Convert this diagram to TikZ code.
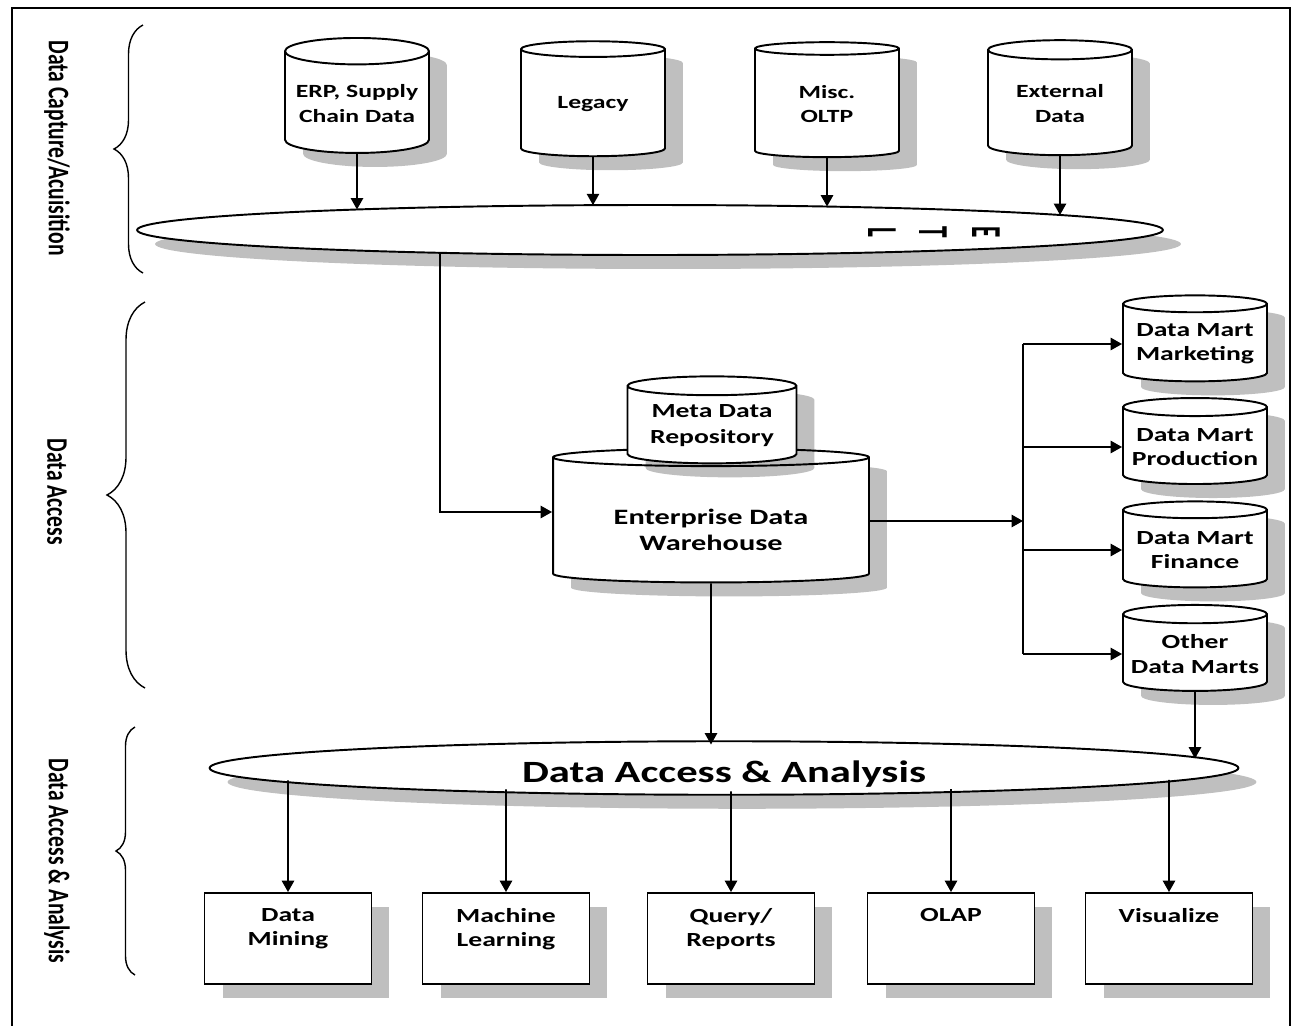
\documentclass[tikz,border=0pt]{standalone}
\usepackage{fontspec}
\setmainfont{Carlito}[FakeStretch=1.38]
\newfontfamily\sidefont{Carlito}
\usetikzlibrary{shapes.geometric, shadows, arrows.meta, intersections, decorations.pathreplacing}
\newcommand{\feedarrow}[2]{%
  \path[name path=feed] (#1.south) -- ++(0,220);
  \draw[arr, name intersections={of=feed and #2, sort by=feed}] (#1.south) -- (intersection-1);
}
\newcommand{\droparrow}[2]{%
  \path[name path=drop] (#2.north) -- ++(0,-220);
  \draw[arr, name intersections={of=drop and #1, sort by=drop}] (intersection-1) -- (#2.north);
}
\tikzset{
  dropgray/.style={drop shadow={fill=black, opacity=0.25, shadow xshift=0.36cm, shadow yshift=-0.28cm}},
  db/.style={cylinder, shape border rotate=90, draw, fill=white, dropgray, align=center, inner sep=1pt},
  srcdb/.style={db, aspect=0.21, minimum width=2.88cm, minimum height=2.3cm, font=\bfseries\fontsize{10.6}{14.2}\selectfont},
  martdb/.style={db, aspect=0.139, minimum width=2.88cm, minimum height=1.72cm, font=\bfseries\fontsize{11.4}{13.7}\selectfont},
  rim/.style={ellipse, draw, fill=white, dropgray, inner sep=0pt},
  toolbox/.style={rectangle, draw, fill=white, dropgray, minimum width=3.34cm, minimum height=1.82cm},
  toollabel/.style={anchor=north, align=center, inner sep=0pt, yshift=-0.3cm, font=\bfseries\fontsize{11.4}{13.7}\selectfont},
  arr/.style={-{Triangle[length=6.5pt, width=7pt]}},
  curly/.style={decorate, decoration={brace, amplitude=#1}, line width=0.8pt},
  sidelabel/.style={rotate=-90, font=\sidefont\bfseries\fontsize{12.3}{14}\selectfont},
  etlglyph/.style={rotate=-90, inner sep=0pt, font=\sidefont\bfseries\fontsize{17.6}{18}\selectfont},
}

\begin{document}
\begin{tikzpicture}[x=0.02cm, y=-0.02cm, line width=1.1pt]
  \useasboundingbox (0,0) rectangle (1295,1025);
  \draw (12,8) rectangle (1290,1045);

  % side brackets and labels
  \draw[curly=0.58cm] (143,273) -- (143,25);
  \draw[curly=0.76cm] (145,688) -- (145,302);
  \draw[curly=0.38cm] (135,975) -- (135,727);
  \node[sidelabel] (capl) at (57,148) {\scalebox{1}[1.38]{Data Capture/Acuisition}};
  \node[sidelabel] (accl) at (57,492) {\scalebox{1}[1.38]{Data Access}};
  \node[sidelabel] (anll) at (57,861) {\scalebox{1}[1.38]{Data Access \& Analysis}};

  % sources
  \node[srcdb] (erp) at (357,104) {ERP, Supply\\Chain Data};
  \node[srcdb] (legacy) at (593,104) {Legacy};
  \node[srcdb] (oltp) at (827,104) {Misc.\\OLTP};
  \node[srcdb] (ext) at (1060,104) {External\\Data};

  % ETL
  \node[rim, minimum width=20.52cm, minimum height=1cm] (etl) at (650,230) {};
  \path[name path=etlrim] (etl.center) ellipse [x radius=10.26cm, y radius=0.5cm];
  \node[etlglyph] (etl-l) at (882,232) {\scalebox{0.75}[1.38]{L}};
  \node[etlglyph] (etl-t) at (933,232) {\scalebox{0.75}[1.38]{T}};
  \node[etlglyph] (etl-e) at (986,232) {\scalebox{0.75}[1.38]{E}};

  % warehouse
  \node[db, aspect=0.089, minimum width=6.32cm, minimum height=2.68cm, text height=1.2cm,
        font=\bfseries\fontsize{12.5}{14.8}\selectfont] (edw) at (711,521) {Enterprise Data\\Warehouse};
  \node[db, aspect=0.148, minimum width=3.38cm, minimum height=1.74cm,
        font=\bfseries\fontsize{11.4}{14.8}\selectfont] (meta) at (712,426) {Meta Data\\Repository};

  % marts
  \node[martdb] (mkt) at (1195,344) {Data Mart\\Marketing};
  \node[martdb] (prod) at (1195,447) {Data Mart\\Production};
  \node[martdb] (fin) at (1195,550) {Data Mart\\Finance};
  \node[martdb] (other) at (1195,654) {Other\\Data Marts};
  \coordinate (bus) at (1023,0);

  % analysis
  \node[rim, minimum width=20.58cm, minimum height=0.94cm, text height=0.66cm,
        font=\bfseries\fontsize{17.6}{20}\selectfont] (daa) at (724,768) {Data Access \& Analysis};
  \path[name path=daarim] (daa.center) ellipse [x radius=10.29cm, y radius=0.47cm];
  \node[toolbox, label={[toollabel]north:{Data\\Mining}}] (mining) at (288,938.5) {};
  \node[toolbox, label={[toollabel]north:{Machine\\Learning}}] (ml) at (506,938.5) {};
  \node[toolbox, label={[toollabel]north:{Query/\\Reports}}] (query) at (731,938.5) {};
  \node[toolbox, label={[toollabel]north:OLAP}] (olap) at (951,938.5) {};
  \node[toolbox, label={[toollabel]north:Visualize}] (vis) at (1169,938.5) {};

  % connectors
  \feedarrow{erp}{etlrim}
  \feedarrow{legacy}{etlrim}
  \feedarrow{oltp}{etlrim}
  \feedarrow{ext}{etlrim}
  \coordinate (bend) at (440,512);
  \path[name path=tap] (bend) -- ++(0,-320);
  \draw[arr, name intersections={of=tap and etlrim, sort by=tap}] (intersection-1) |- ([yshift=0.18cm]edw.west);
  \draw[arr] (edw.east) -- (edw.east -| bus);
  \draw (mkt.west -| bus) -- (other.west -| bus);
  \draw[arr] (mkt.west -| bus) -- (mkt.west);
  \draw[arr] (prod.west -| bus) -- (prod.west);
  \draw[arr] (fin.west -| bus) -- (fin.west);
  \draw[arr] (other.west -| bus) -- (other.west);
  \feedarrow{edw}{daarim}
  \feedarrow{other}{daarim}
  \droparrow{daarim}{mining}
  \droparrow{daarim}{ml}
  \droparrow{daarim}{query}
  \droparrow{daarim}{olap}
  \droparrow{daarim}{vis}
\end{tikzpicture}
\end{document}
